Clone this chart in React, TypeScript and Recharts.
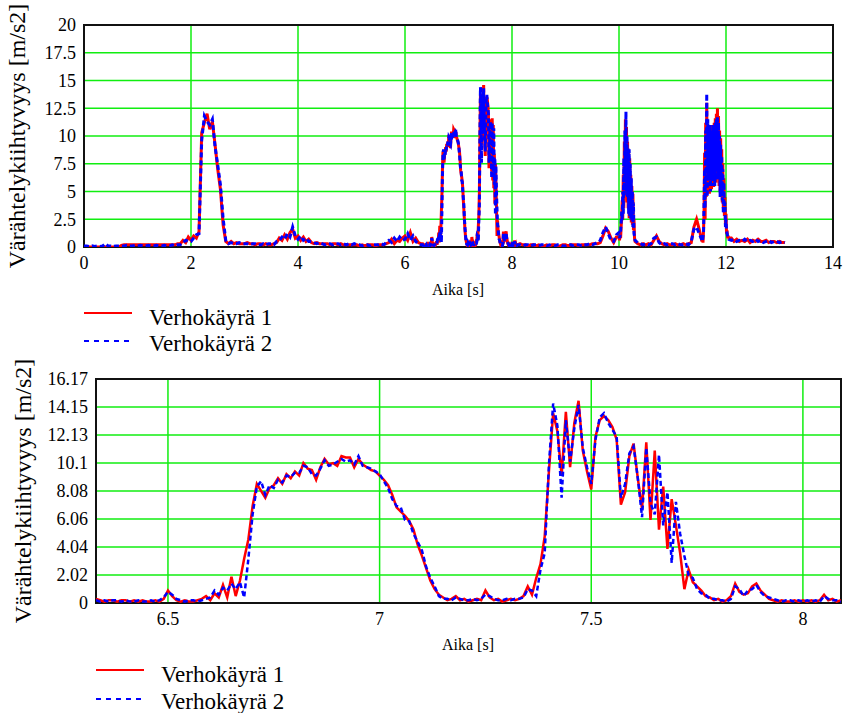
import { LineChart, Line, XAxis, YAxis, CartesianGrid, ReferenceArea } from "recharts"

const FONT = "Liberation Serif, Tinos, DejaVu Serif, Times New Roman, serif"
const GRID = "#10ee10"
const RED = "#ff0000"
const BLUE = "#0000ff"

// top plot: whole run, coarse samples every 0.05 s
const TOP_STEP = 0.05
const topCurve1 = [
  0, 0, 0, 0, 0, 0, 0, 0, 0, 0, 0, 0, 0, 0, 0.15, 0.2, 0.2, 0.2, 0.2, 0.2,
  0.2, 0.2, 0.2, 0.2, 0.2, 0.2, 0.2, 0.2, 0.2, 0.2, 0.2, 0.2, 0.2, 0.2, 0.2, 0.3, 0.3, 0.6, 0.4, 0.9,
  0.6, 1.0, 0.8, 1.4, 10.3, 11.2, 12.0, 10.6, 11.3, 9.2, 7.0, 5.2, 2.0, 0.5, 0.3, 0.5, 0.3, 0.4, 0.3, 0.3,
  0.3, 0.4, 0.3, 0.3, 0.2, 0.3, 0.3, 0.2, 0.3, 0.2, 0.2, 0.3, 0.4, 0.8, 0.6, 1.1, 0.7, 1.3, 1.6, 0.8,
  1.0, 0.6, 0.9, 0.5, 0.7, 0.4, 0.3, 0.4, 0.3, 0.3, 0.3, 0.3, 0.2, 0.3, 0.3, 0.2, 0.3, 0.2, 0.2, 0.2,
  0.2, 0.2, 0.2, 0.1, 0.2, 0.1, 0.2, 0.2, 0.2, 0.1, 0.2, 0.2, 0.2, 0.3, 0.4, 0.7, 0.3, 0.6, 0.5, 0.8,
  1.0, 0.6, 1.3, 0.5, 0.8, 0.4, 0.3, 0.2, 0.2, 0.2, 0.8, 0.2, 0.6, 1.8, 8.5, 8.8, 9.3, 9.5, 10.3, 10.2,
  9.6, 8.6, 5.8, 2.5, 0.6, 0.3, 0.4, 0.3, 9.5, 14.5, 12.2, 13.5, 9.5, 10.5, 6.0, 2.5, 0.6, 0.8, 0.3, 0.2,
  0.3, 0.2, 0.2, 0.3, 0.2, 0.2, 0.1, 0.2, 0.2, 0.1, 0.2, 0.1, 0.1, 0.2, 0.1, 0.2, 0.2, 0.1, 0.1, 0.2,
  0.2, 0.1, 0.2, 0.2, 0.2, 0.1, 0.2, 0.2, 0.2, 0.2, 0.3, 0.3, 0.3, 0.4, 1.0, 1.7, 1.4, 0.8, 0.4, 0.9,
  0.9, 2.7, 12.0, 4.5, 10.0, 6.0, 0.8, 0.3, 0.2, 0.3, 0.2, 0.3, 0.2, 0.6, 1.0, 0.5, 0.3, 0.2, 0.3, 0.2,
  0.2, 0.3, 0.2, 0.2, 0.3, 0.2, 0.3, 0.4, 1.8, 2.5, 1.6, 0.5, 5.0, 13.8, 6.0, 11.5, 5.5, 12.5, 7.0, 9.0,
  3.0, 1.0, 0.8, 0.5, 0.7, 0.5, 0.6, 0.5, 0.7, 0.4, 0.6, 0.5, 0.7, 0.5, 0.5, 0.6, 0.4, 0.5, 0.5, 0.4,
  0.5, 0.4, 0.4,
]
const topCurve2 = [
  0.1, 0.1, 0.05, 0.1, 0.05, 0.1, 0.05, 0.1, 0.3, 0.1, 0.1, 0.05, 0.1, 0.1, 0.1, 0.1, 0.15, 0.1, 0.1, 0.15,
  0.1, 0.15, 0.1, 0.1, 0.15, 0.1, 0.1, 0.15, 0.1, 0.1, 0.15, 0.1, 0.1, 0.2, 0.1, 0.2, 0.2, 0.4, 0.6, 0.5,
  0.5, 0.8, 1.1, 1.2, 9.6, 11.8, 11.3, 11.0, 11.5, 9.0, 7.4, 5.6, 2.6, 0.6, 0.3, 0.4, 0.3, 0.3, 0.4, 0.3,
  0.3, 0.3, 0.2, 0.3, 0.3, 0.2, 0.2, 0.3, 0.2, 0.3, 0.3, 0.2, 0.5, 0.6, 0.9, 0.7, 1.2, 0.9, 1.8, 1.0,
  0.7, 1.0, 0.6, 0.8, 0.5, 0.5, 0.4, 0.3, 0.4, 0.3, 0.2, 0.3, 0.3, 0.2, 0.3, 0.3, 0.2, 0.3, 0.2, 0.3,
  0.2, 0.3, 0.2, 0.2, 0.1, 0.2, 0.2, 0.1, 0.2, 0.2, 0.2, 0.3, 0.2, 0.4, 0.6, 0.4, 0.8, 0.5, 0.9, 0.6,
  0.7, 1.2, 0.6, 1.0, 0.5, 0.3, 0.2, 0.2, 0.3, 0.2, 0.9, 0.3, 0.4, 1.5, 8.0, 8.6, 9.1, 9.6, 10.0, 10.4,
  9.8, 8.2, 6.2, 2.2, 0.5, 0.4, 0.3, 0.4, 11.0, 13.8, 11.0, 13.2, 10.2, 11.5, 5.2, 2.0, 0.8, 0.5, 0.4, 0.3,
  0.2, 0.3, 0.2, 0.2, 0.1, 0.2, 0.2, 0.1, 0.2, 0.2, 0.1, 0.2, 0.2, 0.1, 0.2, 0.1, 0.1, 0.2, 0.2, 0.1,
  0.1, 0.2, 0.2, 0.1, 0.2, 0.2, 0.1, 0.2, 0.2, 0.3, 0.2, 0.3, 0.4, 0.6, 1.3, 1.8, 1.2, 0.6, 0.5, 1.1,
  1.3, 3.2, 12.2, 5.6, 9.2, 4.8, 0.6, 0.4, 0.3, 0.2, 0.3, 0.2, 0.3, 0.8, 0.9, 0.4, 0.2, 0.3, 0.2, 0.3,
  0.3, 0.2, 0.3, 0.2, 0.2, 0.3, 0.2, 0.5, 1.6, 1.8, 1.2, 0.8, 6.0, 13.6, 7.0, 11.0, 6.5, 12.0, 6.0, 8.5,
  2.5, 1.2, 0.6, 0.7, 0.5, 0.6, 0.5, 0.7, 0.5, 0.6, 0.5, 0.7, 0.5, 0.6, 0.4, 0.5, 0.6, 0.4, 0.5, 0.5,
  0.4, 0.5, 0.4,
]

// fine samples (0.01 s) of the two short bursts near 10.1 s and 11.8 s
const FINE_STEP = 0.01
const BURST10_START = 10.0
const burst10Curve1 = [
  0.9, 0.6, 1.2, 0.8, 1.8, 2.7, 4.2, 2.5, 6.5, 3.5,
  9.5, 5.0, 11.5, 6.0, 10.8, 4.0, 9.5, 3.5, 8.5, 2.6,
  8.0, 3.0, 6.5, 2.2, 5.5, 2.0, 4.8, 1.5, 2.5, 0.8,
  0.5,
]
const burst10Curve2 = [
  1.3, 0.8, 1.0, 1.4, 2.2, 3.2, 2.4, 5.0, 3.0, 8.0,
  4.5, 10.5, 6.0, 12.2, 5.0, 10.0, 4.5, 9.0, 3.0, 8.8,
  2.8, 7.5, 2.5, 6.2, 2.4, 5.0, 1.8, 4.0, 1.2, 1.0,
  0.6,
]
const BURST12_START = 11.55
const burst12Curve1 = [
  0.5, 0.8, 0.4, 1.5, 3.0, 8.5, 2.5, 11.2, 4.5, 13.0,
  5.0, 10.8, 5.5, 10.2, 4.8, 10.6, 5.6, 10.0, 5.2, 11.0,
  6.0, 10.4, 5.4, 11.2, 6.2, 11.6, 5.8, 12.0, 6.5, 12.5,
  7.0, 11.8, 5.5, 10.5, 5.0, 9.8, 4.5, 8.8, 4.0, 7.5,
  3.5, 6.2, 2.8, 4.5, 2.0, 3.0, 1.2, 1.5, 0.8, 1.0,
  0.8,
]
const burst12Curve2 = [
  0.6, 0.5, 0.9, 1.2, 4.0, 7.0, 3.5, 10.5, 5.5, 13.8,
  4.5, 11.5, 6.0, 9.8, 5.5, 11.0, 5.0, 10.5, 6.0, 10.5,
  5.5, 11.0, 6.5, 10.8, 5.5, 11.2, 6.8, 11.5, 6.0, 11.8,
  6.5, 11.2, 6.0, 10.0, 4.5, 9.2, 5.0, 8.2, 4.2, 7.0,
  3.0, 5.8, 3.2, 4.0, 1.8, 2.5, 1.5, 1.2, 1.0, 0.8,
  0.7,
]
const topXTicks = [0, 2, 4, 6, 8, 10, 12, 14]
const topYTicks = [0, 2.5, 5, 7.5, 10, 12.5, 15, 17.5, 20]

// bottom plot: zoom 6.33 .. 8.09 s, sampled every 0.01 s
const ZOOM_START = 6.33
const zoomCurve1 = [
  0.3, 0.2, 0.1, 0.2, 0.2, 0.1, 0.2, 0.2, 0.1, 0.2,
  0.1, 0.2, 0.1, 0.1, 0.2, 0.1, 0.3, 0.9, 0.5, 0.2,
  0.1, 0.2, 0.1, 0.1, 0.2, 0.3, 0.5, 0.2, 0.7, 0.4,
  1.3, 0.4, 1.9, 0.5, 1.6, 3.2, 4.6, 7.0, 8.6, 8.1,
  7.6, 8.3, 8.5, 9.0, 8.6, 9.3, 9.0, 9.5, 9.2, 10.1,
  9.7, 9.6, 8.9, 9.8, 10.4, 10.0, 10.1, 9.9, 10.6, 10.5,
  10.5, 9.8, 10.4, 10.0, 9.8, 9.6, 9.5, 9.2, 8.9, 8.5,
  7.8, 6.9, 6.6, 6.3, 5.9, 5.3, 4.2, 3.4, 2.5, 1.6,
  1.0, 0.6, 0.4, 0.2, 0.3, 0.5, 0.2, 0.3, 0.1, 0.2,
  0.3, 0.2, 0.9, 0.4, 0.2, 0.3, 0.1, 0.2, 0.3, 0.2,
  0.3, 0.5, 1.2, 0.6, 1.8, 2.8, 4.8, 9.5, 13.7, 12.4,
  9.2, 13.8, 9.8, 13.0, 14.6, 11.0, 9.5, 8.2, 12.0, 13.2,
  13.5, 13.2, 12.7, 11.8, 7.1, 8.0, 10.6, 11.5, 9.0, 6.8,
  11.6, 6.0, 11.0, 5.3, 8.4, 3.9, 7.5, 5.6, 3.6, 1.0,
  2.4, 1.5, 1.2, 0.9, 0.5, 0.4, 0.2, 0.3, 0.1, 0.2,
  0.5, 1.4, 0.8, 0.6, 0.7, 1.2, 1.4, 0.9, 0.6, 0.3,
  0.2, 0.1, 0.2, 0.1, 0.1, 0.2, 0.1, 0.2, 0.1, 0.2,
  0.1, 0.2, 0.6, 0.2, 0.3, 0.1, 0.2,
]
const zoomCurve2 = [
  0.2, 0.1, 0.2, 0.1, 0.2, 0.2, 0.1, 0.2, 0.1, 0.1,
  0.2, 0.1, 0.1, 0.2, 0.1, 0.2, 0.4, 0.8, 0.6, 0.3,
  0.2, 0.1, 0.2, 0.2, 0.1, 0.2, 0.3, 0.4, 0.9, 0.6,
  1.1, 0.9, 1.4, 1.0, 1.5, 0.4, 3.2, 6.4, 8.4, 8.8,
  7.8, 8.5, 8.3, 8.9, 8.7, 9.2, 9.1, 9.4, 9.4, 9.9,
  9.8, 9.3, 9.2, 9.7, 10.3, 9.9, 10.0, 10.2, 10.4, 10.2,
  10.3, 10.0, 10.6, 9.9, 9.8, 9.7, 9.5, 9.3, 8.8, 8.3,
  7.5, 7.0, 6.9, 6.0, 5.9, 5.0, 4.4, 3.8, 2.6, 1.8,
  1.2, 0.5, 0.3, 0.3, 0.2, 0.4, 0.3, 0.2, 0.2, 0.3,
  0.2, 0.3, 0.6, 0.5, 0.3, 0.2, 0.2, 0.3, 0.2, 0.3,
  0.3, 0.4, 1.0, 0.9, 0.5, 2.4, 3.6, 10.0, 14.4, 12.8,
  7.6, 13.2, 10.2, 12.6, 14.3, 11.2, 9.8, 8.6, 11.8, 13.4,
  13.7, 13.0, 12.5, 12.0, 7.6, 8.6, 10.8, 11.3, 9.0, 6.2,
  11.2, 7.2, 6.4, 10.7, 5.6, 8.0, 2.9, 7.3, 5.0, 3.4,
  2.0, 1.8, 1.0, 0.7, 0.6, 0.3, 0.3, 0.2, 0.2, 0.1,
  0.3, 1.2, 1.0, 0.5, 0.9, 1.0, 1.3, 0.8, 0.5, 0.4,
  0.3, 0.2, 0.1, 0.2, 0.2, 0.1, 0.2, 0.1, 0.2, 0.1,
  0.2, 0.1, 0.5, 0.3, 0.2, 0.2, 0.1,
]
const zoomXTicks = [6.5, 7, 7.5, 8]
const zoomYTicks = [0, 2.02, 4.04, 6.06, 8.08, 10.1, 12.13, 14.15, 16.17]

const round3 = (x: number) => Math.round(x * 1000) / 1000

function series(start: number, step: number, c1: number[], c2: number[]) {
  return c1.map((v, i) => ({ t: round3(start + i * step), a: v, b: c2[i] }))
}

const zoomData = series(ZOOM_START, FINE_STEP, zoomCurve1, zoomCurve2)
const fineParts = [
  zoomData,
  series(BURST10_START, FINE_STEP, burst10Curve1, burst10Curve2),
  series(BURST12_START, FINE_STEP, burst12Curve1, burst12Curve2),
]
// the whole-run plot uses the fine samples where they exist, coarse ones elsewhere
const topData = series(0, TOP_STEP, topCurve1, topCurve2)
  .filter((p) => !fineParts.some((part) => p.t >= part[0].t && p.t <= part[part.length - 1].t))
  .concat(...fineParts)
  .sort((p, q) => p.t - q.t)

const tickStyle = { fontFamily: FONT, fontSize: 18, fill: "#000" }

function Panel({ data, xDomain, xTicks, yDomain, yTicks, yAxisWidth, margin, top, lineWidth }) {
  return (
    <div style={{ position: "absolute", left: 0, top }}>
      <LineChart width={845} height={300} data={data} margin={margin}>
        <CartesianGrid stroke={GRID} strokeWidth={1.5} />
        <XAxis
          type="number"
          dataKey="t"
          domain={xDomain}
          ticks={xTicks}
          allowDataOverflow
          axisLine={false}
          tickLine={false}
          tickMargin={3}
          height={30}
          tick={tickStyle}
        />
        <YAxis
          type="number"
          domain={yDomain}
          ticks={yTicks}
          allowDataOverflow
          axisLine={false}
          tickLine={false}
          width={yAxisWidth}
          tick={tickStyle}
        />
        <Line type="linear" dataKey="a" stroke={RED} strokeWidth={lineWidth} dot={false} isAnimationActive={false} />
        <Line
          type="linear"
          dataKey="b"
          stroke={BLUE}
          strokeWidth={lineWidth}
          strokeDasharray="5 3"
          dot={false}
          isAnimationActive={false}
        />
        <ReferenceArea
          x1={xDomain[0]}
          x2={xDomain[1]}
          y1={yDomain[0]}
          y2={yDomain[1]}
          fill="none"
          stroke="#111"
          strokeWidth={2}
          ifOverflow="visible"
        />
      </LineChart>
    </div>
  )
}

function Legend({ x, textX, y1, y2 }) {
  return (
    <g fontFamily={FONT} fontSize={23}>
      <line x1={x} x2={x + 48} y1={y1} y2={y1} stroke={RED} strokeWidth={2} />
      <text x={textX} y={y1 + 12}>Verhokäyrä 1</text>
      <line x1={x} x2={x + 48} y1={y2} y2={y2} stroke={BLUE} strokeWidth={2} strokeDasharray="5 5" />
      <text x={textX} y={y2 + 10}>Verhokäyrä 2</text>
    </g>
  )
}

export default function App() {
  return (
    <div style={{ position: "absolute", left: 0, top: 0, width: 845, height: 713, background: "#fff", fontFamily: FONT }}>
      <Panel
        data={topData}
        xDomain={[0, 14]}
        xTicks={topXTicks}
        yDomain={[0, 20]}
        yTicks={topYTicks}
        yAxisWidth={84}
        margin={{ top: 25, right: 12, bottom: 23, left: 0 }}
        top={0}
        lineWidth={3}
      />
      <Panel
        data={zoomData}
        xDomain={[6.33, 8.09]}
        xTicks={zoomXTicks}
        yDomain={[0, 16.17]}
        yTicks={zoomYTicks}
        yAxisWidth={96}
        margin={{ top: 27, right: 4, bottom: 19, left: 0 }}
        top={352}
        lineWidth={2.5}
      />
      <svg
        width={845}
        height={713}
        style={{ position: "absolute", left: 0, top: 0, pointerEvents: "none" }}
      >
        <text
          transform="translate(25,136) rotate(-90)"
          textAnchor="middle"
          fontFamily={FONT}
          fontSize={24}
        >
          Värähtelykiihtyvyys [m/s2]
        </text>
        <text
          transform="translate(31,491) rotate(-90)"
          textAnchor="middle"
          fontFamily={FONT}
          fontSize={24}
        >
          Värähtelykiihtyvyys [m/s2]
        </text>
        <text x={458} y={295} textAnchor="middle" fontFamily={FONT} fontSize={16}>
          Aika [s]
        </text>
        <text x={468} y={650} textAnchor="middle" fontFamily={FONT} fontSize={16}>
          Aika [s]
        </text>
        <Legend x={84} textX={149} y1={313} y2={341} />
        <Legend x={96} textX={161} y1={670} y2={699} />
      </svg>
    </div>
  )
}
